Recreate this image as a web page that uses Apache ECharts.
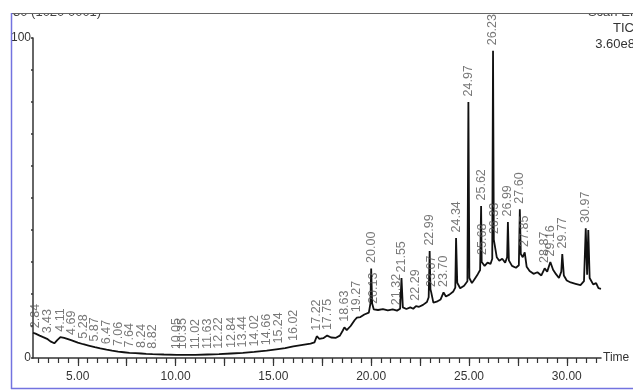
<!DOCTYPE html>
<html>
<head>
<meta charset="utf-8">
<style>html,body{margin:0;padding:0;background:#fff;}#chart{width:633px;height:391px;}</style>
<script src="https://cdn.jsdelivr.net/npm/echarts@6/dist/echarts.min.js"></script>
</head>
<body>
<div id="chart"></div>
<script>
// ---- data ----
const times = [2.71,2.84,3.05,3.2,3.43,3.6,3.8,3.95,4.11,4.3,4.5,4.69,5.0,5.28,5.55,5.87,6.15,6.47,6.75,7.06,7.35,7.64,7.95,8.24,8.5,8.82,9.4,10.05,10.35,11.02,11.63,12.22,12.84,13.44,14.02,14.66,15.24,15.6,16.02,16.5,16.9,17.1,17.22,17.35,17.55,17.75,17.95,18.2,18.4,18.55,18.63,18.75,18.95,19.15,19.27,19.45,19.65,19.88,19.96,20.00,20.05,20.13,20.35,20.6,20.85,21.1,21.32,21.48,21.55,21.62,21.8,22.0,22.15,22.29,22.45,22.65,22.85,22.94,22.99,23.03,23.07,23.18,23.35,23.55,23.70,23.82,24.0,24.2,24.3,24.34,24.4,24.55,24.75,24.92,24.97,25.02,25.15,25.3,25.45,25.57,25.62,25.65,25.68,25.8,25.95,26.1,26.19,26.23,26.27,26.33,26.42,26.55,26.7,26.85,26.95,26.99,27.04,27.2,27.4,27.55,27.60,27.65,27.75,27.85,27.95,28.1,28.3,28.5,28.7,28.87,29.0,29.16,29.3,29.45,29.6,29.72,29.77,29.85,30.0,30.2,30.45,30.7,30.88,30.97,31.04,31.1,31.17,31.35,31.5,31.62,31.75];
const intensity = [7.9,7.6,7.0,6.6,6.0,5.2,4.6,5.6,6.5,6.3,5.9,5.5,4.8,4.3,3.9,3.4,3.0,2.6,2.3,2.0,1.8,1.6,1.5,1.4,1.3,1.2,1.1,1.0,1.0,1.0,1.1,1.2,1.4,1.6,1.9,2.3,2.8,3.1,3.6,4.1,4.5,4.9,6.8,6.0,6.2,7.0,6.4,6.3,7.0,8.6,9.6,8.7,10.0,11.8,12.6,12.8,13.6,14.2,17,28,17,15.2,15.0,15.3,14.9,15.2,14.8,15.4,25,15.8,15.3,15.8,15.4,16.2,16.0,16.6,17.5,19,33.4,21.5,20.5,17.3,17.6,18.3,20.5,19.2,19.8,20.8,22,37.5,23.5,21.8,22.6,24,80,25,23.4,24.8,26.2,27.5,47.5,30,30.5,28.8,29.8,29.4,31,96,37,37,31.5,30.4,31,29.8,31.5,42.5,30.5,28.8,28.2,29,46.5,32.5,31.5,33,28.5,27.2,26.3,26.8,25.8,28,27,30,27.6,26.2,25,27,32.5,25.8,24.2,23.6,23.2,22.8,24,40.5,26,40,25,23,23.4,21.8,21.6];
const peakTimes = [2.84,3.43,4.11,4.69,5.28,5.87,6.47,7.06,7.64,8.24,8.82,10.05,10.35,11.02,11.63,12.22,12.84,13.44,14.02,14.66,15.24,16.02,17.22,17.75,18.63,19.27,20.00,20.13,21.32,21.55,22.29,22.99,23.07,23.70,24.34,24.97,25.62,25.68,26.23,26.33,26.99,27.60,27.85,28.87,29.16,29.77,30.97];
const xLabelValues = [5,10,15,20,25,30];
const yLabelValues = [0,100];

// ---- layout ----
const X_MIN = 2.71, X_MAX = 31.75;
const G_LEFT = 33, G_RIGHT_EDGE = 601, G_TOP = 38, G_BOTTOM_EDGE = 358;
const G_W = G_RIGHT_EDGE - G_LEFT, G_H = G_BOTTOM_EDGE - G_TOP;
const K = G_W / (X_MAX - X_MIN);
const FONT = "'Liberation Sans',Arial,sans-serif";
const TXT = '#333';

const lineData = times.map((t, i) => [t, intensity[i]]);
const peakData = peakTimes.map(t => {
  const i = times.indexOf(t);
  return [t, intensity[i]];
});

function tickGrid(minV, maxV) {
  return { left: G_LEFT + (minV - X_MIN) * K, width: (maxV - minV) * K, top: G_TOP, height: G_H,
           containLabel: false, outerBoundsMode: 'none' };
}

const chart = echarts.init(document.getElementById('chart'), null, { renderer: 'canvas' });
chart.setOption({
  animation: false,
  backgroundColor: '#fff',
  grid: [
    { left: G_LEFT, width: G_W, top: G_TOP, height: G_H, containLabel: false, outerBoundsMode: 'none' },
    tickGrid(3.0, 31.5),
    tickGrid(5, 30)
  ],
  xAxis: [
    { type: 'value', gridIndex: 0, min: X_MIN, max: X_MAX,
      name: 'Time', nameLocation: 'end', nameGap: 2,
      nameTextStyle: { color: TXT, fontFamily: FONT, fontSize: 12 },
      axisLine: { show: true, lineStyle: { color: '#333', width: 1.5 } },
      axisTick: { show: false }, axisLabel: { show: false }, splitLine: { show: false } },
    { type: 'value', gridIndex: 1, min: 3.0, max: 31.5, interval: 0.5,
      axisLine: { show: false }, axisLabel: { show: false }, splitLine: { show: false },
      axisTick: { show: true, length: 5, lineStyle: { color: '#333', width: 1.2 } } },
    { type: 'value', gridIndex: 2, min: 5, max: 30, interval: 2.5,
      axisLine: { show: false }, splitLine: { show: false },
      axisTick: { show: true, length: 8, lineStyle: { color: '#333', width: 1.2 } },
      axisLabel: { show: true, margin: 13, color: TXT, fontFamily: FONT, fontSize: 12,
        formatter: v => xLabelValues.indexOf(v) >= 0 ? v.toFixed(2) : '' } }
  ],
  yAxis: [
    { type: 'value', gridIndex: 0, min: 0, max: 100, interval: 10,
      name: '%', nameLocation: 'middle', nameGap: 6, nameRotate: 90,
      nameTextStyle: { color: '#777', fontFamily: FONT, fontSize: 11 },
      axisLine: { show: true, lineStyle: { color: '#333', width: 1.5 } },
      axisTick: { show: true, length: 2, lineStyle: { color: '#333', width: 1.5 } },
      axisLabel: { show: true, margin: 2, color: TXT, fontFamily: FONT, fontSize: 12,
        formatter: v => yLabelValues.indexOf(v) >= 0 ? String(v) : '' },
      splitLine: { show: false } },
    { type: 'value', gridIndex: 1, show: false, min: 0, max: 100 },
    { type: 'value', gridIndex: 2, show: false, min: 0, max: 100 }
  ],
  series: [
    { type: 'line', xAxisIndex: 0, yAxisIndex: 0, data: lineData, showSymbol: false,
      symbol: 'none', lineStyle: { color: '#111', width: 1.8 }, z: 3 },
    { type: 'scatter', xAxisIndex: 0, yAxisIndex: 0, data: peakData, symbolSize: 1,
      itemStyle: { color: 'rgba(0,0,0,0)' }, z: 4,
      label: { show: true, position: 'top', distance: 5, rotate: 90, align: 'left',
        verticalAlign: 'middle', color: '#555', fontFamily: FONT,
        fontSize: 12.5, formatter: p => p.value[0].toFixed(2) } }
  ],
  graphic: [
    { type: 'text', left: 13, top: 6, z: 1, style: { text: '30 (1020 0001)', fill: '#444', font: "13px " + FONT } },
    { type: 'text', right: -8, top: 6, z: 1, style: { text: 'Scan EI+', fill: '#444', font: "13px " + FONT } },
    { type: 'rect', left: 0, top: 0, z: 2, shape: { width: 633, height: 13 }, style: { fill: '#fff' } },
    { type: 'line', z: 3, shape: { x1: 11, y1: 13.5, x2: 633, y2: 13.5 }, style: { stroke: '#666', lineWidth: 1 } },
    { type: 'line', z: 3, shape: { x1: 11.5, y1: 13, x2: 11.5, y2: 389 }, style: { stroke: '#7373e0', lineWidth: 1.5 } },
    { type: 'line', z: 3, shape: { x1: 11, y1: 388.5, x2: 633, y2: 388.5 }, style: { stroke: '#7373e0', lineWidth: 1.5 } },
    { type: 'text', right: -1, top: 22, z: 3, style: { text: 'TIC', fill: '#333', font: "13px " + FONT } },
    { type: 'text', right: -2, top: 38, z: 3, style: { text: '3.60e8', fill: '#333', font: "13px " + FONT } }
  ]
});
</script>
</body>
</html>
